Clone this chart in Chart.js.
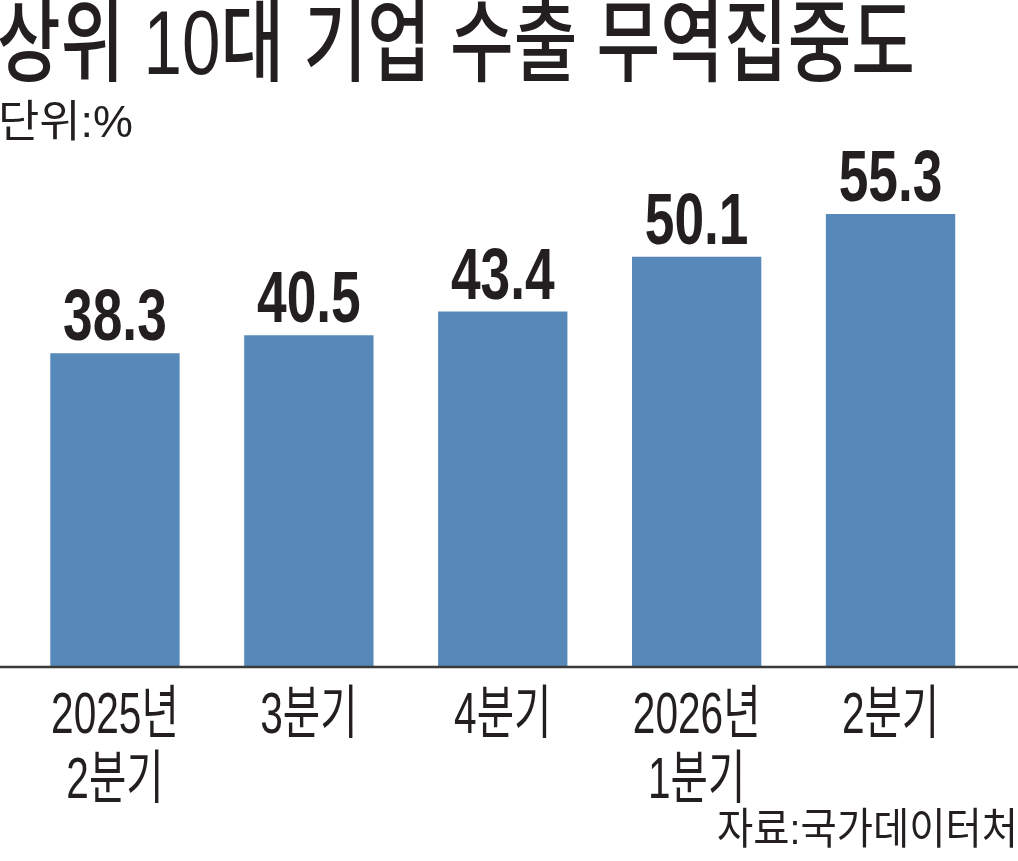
<!DOCTYPE html>
<html lang="ko">
<head>
<meta charset="utf-8">
<title>상위 10대 기업 수출 무역집중도</title>
<script src="https://cdn.jsdelivr.net/npm/chart.js@4/dist/chart.umd.min.js"></script>
<style>
    html, body { margin: 0; padding: 0; background: #fff; }
    #wrap { position: relative; width: 1018px; height: 861px; overflow: hidden; }
    #chart { position: absolute; left: 0; top: 0; }
    .txt {
        position: absolute;
        white-space: nowrap;
        line-height: 1;
        color: #231f20;
        font-family: "Liberation Sans", "Noto Sans CJK KR", sans-serif;
        transform-origin: left top;
    }
    #title  { left: -3px; top: -2px;  font-size: 90px; font-weight: 500; }
    #unit   { left: -2px; top: 100px; font-size: 44px; }
    #source { left: 717px; top: 808px; font-size: 43px; }
</style>
</head>
<body>
<div id="wrap">
    <canvas id="chart" width="1018" height="861"></canvas>
    <div id="title"  class="txt" data-w="918">상위 10대 기업 수출 무역집중도</div>
    <div id="unit"   class="txt" data-w="135">단위:%</div>
    <div id="source" class="txt" data-w="301">자료:국가데이터처</div>
</div>
<script>
// ── Data ───────────────────────────────────────────────────
const categories = [
    ["2025년", "2분기"],
    ["3분기"],
    ["4분기"],
    ["2026년", "1분기"],
    ["2분기"],
];
const values = [38.3, 40.5, 43.4, 50.1, 55.3];

const BAR_COLOR  = "#5688b9";
const TEXT_COLOR = "#231f20";
const FONT_LATIN = "\"Liberation Sans\", \"Noto Sans CJK KR\", sans-serif";

// ── Fit html text widths (condensed newspaper face) ────────
document.querySelectorAll(".txt").forEach((el) => {
    const target = +el.dataset.w;
    const w = el.getBoundingClientRect().width;
    el.style.transform = `scaleX(${target / w})`;
});

// condensed text helper
function drawCondensed(ctx, text, x, y, sx) {
    ctx.save();
    ctx.translate(x, y);
    ctx.scale(sx, 1);
    ctx.fillText(text, 0, 0);
    ctx.restore();
}

// ── Plugin: value labels, category labels, baseline ───────
const decorPlugin = {
    id: "decor",
    afterDatasetsDraw(chart) {
        const ctx  = chart.ctx;
        const meta = chart.getDatasetMeta(0);
        const yAxis = chart.scales.y;
        const xAxis = chart.scales.x;
        const base = yAxis.getPixelForValue(0);

        // baseline across the whole width
        ctx.save();
        ctx.strokeStyle = "#3a3a3a";
        ctx.lineWidth = 2.5;
        ctx.beginPath();
        ctx.moveTo(0, base);
        ctx.lineTo(chart.width, base);
        ctx.stroke();
        ctx.restore();

        // value labels
        ctx.save();
        ctx.fillStyle = TEXT_COLOR;
        ctx.textAlign = "center";
        ctx.textBaseline = "alphabetic";
        ctx.font = `bold 72px ${FONT_LATIN}`;
        meta.data.forEach((bar, i) => {
            drawCondensed(ctx, values[i].toFixed(1), bar.x, bar.y - 13, 0.74);
        });
        ctx.restore();

        // category labels
        ctx.save();
        ctx.fillStyle = TEXT_COLOR;
        ctx.textAlign = "center";
        ctx.textBaseline = "alphabetic";
        ctx.font = `58px ${FONT_LATIN}`;
        categories.forEach((lines, i) => {
            const x = xAxis.getPixelForTick(i);
            lines.forEach((line, j) => {
                drawCondensed(ctx, line, x, base + 66 + j * 65, 0.70);
            });
        });
        ctx.restore();
    },
};

// ── Chart ──────────────────────────────────────────────────
const ctx = document.getElementById("chart").getContext("2d");
new Chart(ctx, {
    type: "bar",
    data: {
        labels: categories.map((c) => c.join(" ")),
        datasets: [
            {
                data: values,
                backgroundColor: BAR_COLOR,
                borderWidth: 0,
                barPercentage: 0.667,
                categoryPercentage: 1,
            },
        ],
    },
    options: {
        responsive: false,
        animation: false,
        devicePixelRatio: 1,
        layout: {
            padding: { left: 18, right: 30.5, top: 175.6, bottom: 194 },
        },
        plugins: {
            legend: { display: false },
            tooltip: { enabled: false },
        },
        scales: {
            x: {
                display: false,
            },
            y: {
                display: false,
                min: 0,
                max: 60,
            },
        },
    },
    plugins: [decorPlugin],
});
</script>
</body>
</html>
